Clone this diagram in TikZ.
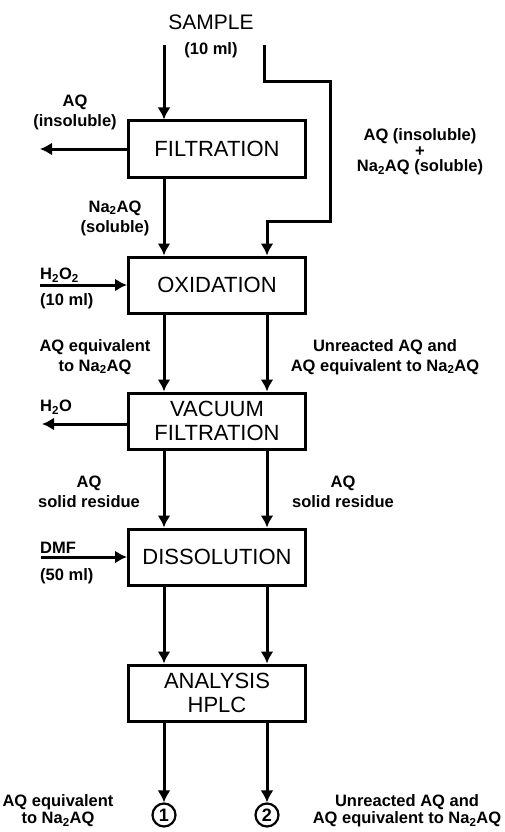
\documentclass[tikz,border=0pt]{standalone}
\usepackage{fontspec}
\setmainfont{Liberation Sans}
\usetikzlibrary{arrows.meta,positioning}

\begin{document}
\begin{tikzpicture}[x=1pt,y=1pt,node distance=77pt,>={Latex[length=12pt,width=13pt]}]
\tikzstyle{box}=[rectangle,draw=black,line width=3pt,align=center,minimum width=177pt,minimum height=56pt,font=\fontsize{22}{24}\selectfont]
\tikzstyle{lbl}=[align=center,inner sep=0pt,font=\fontsize{16.5}{20}\selectfont\bfseries]
\tikzstyle{flow}=[line width=3pt]
\tikzstyle{num}=[circle,draw=black,line width=2.2pt,minimum size=23pt,inner sep=0pt,font=\fontsize{18}{18}\selectfont\bfseries]
\useasboundingbox (0,0) rectangle (505,-832);
% process boxes
\node[box] (filt) at (217,-149) {FILTRATION};
\node[box,below=of filt] (oxid) {OXIDATION};
\node[box,below=of oxid] (vac) {VACUUM\\FILTRATION};
\node[box,below=of vac] (diss) {DISSOLUTION};
\node[box,below=of diss] (hplc) {ANALYSIS\\HPLC};
% sample input
\node[font=\fontsize{21}{23}\selectfont] (sample) at (211,-22) {SAMPLE};
\node[lbl] (samplevol) at (211,-50) {(10 ml)};
\coordinate (colL) at (164,0);
\coordinate (colR) at (267,0);
\coordinate (inL) at (164,-45);
\coordinate (inR) at (264,-45);
\coordinate (bypass) at (330,-82);
\coordinate (bendR) at (267,-221);
\draw[flow,->] (inL) -- (colL |- filt.north);
\draw[flow,->] (inR) |- (bypass) |- (bendR) -- (bendR |- oxid.north);
\draw[flow,->] (colL |- filt.south) -- (colL |- oxid.north);
\foreach \a/\b in {oxid/vac,vac/diss,diss/hplc}{
  \draw[flow,->] (colL |- \a.south) -- (colL |- \b.north);
  \draw[flow,->] (colR |- \a.south) -- (colR |- \b.north);
}
% outputs
\node[num] (out1) at (164,-815) {1};
\node[num] (out2) at (267,-815) {2};
\draw[flow,->] (colL |- hplc.south) -- (out1);
\draw[flow,->] (colR |- hplc.south) -- (out2);
% side streams
\coordinate (aqout) at (40,0);
\coordinate (h2o2in) at (40,0);
\coordinate (h2oout) at (42,0);
\coordinate (dmfin) at (41,0);
\coordinate (vacL) at ([yshift=-3pt]vac.west);
\draw[flow,->] (filt.west) -- (aqout |- filt.west);
\draw[flow,->] (h2o2in |- oxid.west) -- (oxid.west);
\draw[flow,->] (vacL) -- (h2oout |- vacL);
\draw[flow,->] (dmfin |- diss.west) -- (diss.west);
% labels
\node[lbl] (aqins) at (75,-112) {AQ\\(insoluble)};
\node[lbl,font=\fontsize{16.5}{15.5}\selectfont\bfseries] (bypasslbl) at (420,-152) {AQ (insoluble)\\+\\Na\textsubscript{2}AQ (soluble)};
\node[lbl] (na2aq) at (115,-218) {Na\textsubscript{2}AQ\\(soluble)};
\node[lbl,anchor=west] (h2o2) at (40,-275) {H\textsubscript{2}O\textsubscript{2}};
\node[lbl,anchor=west] (h2o2vol) at (40,-301) {(10 ml)};
\node[lbl] (eqL) at (95,-357) {AQ equivalent\\to Na\textsubscript{2}AQ};
\node[lbl] (eqR) at (385,-357) {Unreacted AQ and\\AQ equivalent to Na\textsubscript{2}AQ};
\node[lbl,anchor=west] (h2o) at (40,-407) {H\textsubscript{2}O};
\node[lbl] (resL) at (89,-492) {AQ\\solid residue};
\node[lbl] (resR) at (343,-492) {AQ\\solid residue};
\node[lbl,anchor=west] (dmf) at (40,-548) {DMF};
\node[lbl,anchor=west] (dmfvol) at (40,-576) {(50 ml)};
\node[lbl,font=\fontsize{16.5}{17}\selectfont\bfseries] (res1) at (58,-811) {AQ equivalent\\to Na\textsubscript{2}AQ};
\node[lbl,font=\fontsize{16.5}{17}\selectfont\bfseries] (res2) at (407,-811) {Unreacted AQ and\\AQ equivalent to Na\textsubscript{2}AQ};
\end{tikzpicture}
\end{document}
